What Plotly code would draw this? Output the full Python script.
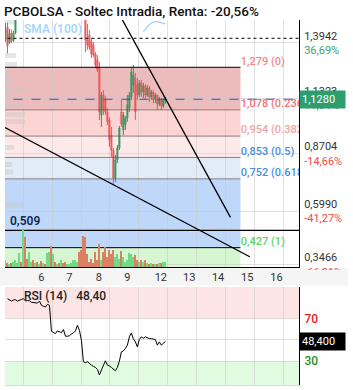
import plotly.graph_objects as go

# ---------------- data ----------------
title_text = "PCBOLSA - Soltec Intradia, Renta: -20,56%"

opens = [1.410, 1.470, 1.395, 1.440, 1.405, 1.442, 1.512, 1.550, 1.590, 1.580,
         1.680, 1.640, 1.620, 1.670, 1.680, 1.670, 1.680, 1.675, 1.690, 1.685,
         1.695, 1.690, 1.730, 1.760, 1.640, 1.665, 1.650, 1.660, 1.650, 1.665,
         1.640, 1.635, 1.645, 1.650, 1.660, 1.675, 1.690, 1.710, 1.670, 1.600,
         1.530, 1.408, 1.432, 1.399, 1.384, 1.342, 1.313, 1.276, 1.054, 1.148,
         1.125, 1.068, 1.030, 0.959, 0.888, 0.756, 0.841, 0.898, 1.068, 0.983,
         1.007, 1.040, 1.087, 1.139, 1.195, 1.228, 1.195, 1.148, 1.205, 1.162,
         1.191, 1.148, 1.181, 1.139, 1.162, 1.125, 1.148, 1.106, 1.129, 1.096,
         1.120]
highs = [1.488, 1.490, 1.460, 1.458, 1.452, 1.530, 1.560, 1.600, 1.610, 1.700,
         1.720, 1.660, 1.680, 1.690, 1.700, 1.690, 1.690, 1.700, 1.700, 1.700,
         1.700, 1.740, 1.770, 1.760, 1.680, 1.670, 1.670, 1.665, 1.670, 1.670,
         1.645, 1.650, 1.655, 1.665, 1.680, 1.700, 1.720, 1.710, 1.680, 1.610,
         1.540, 1.484, 1.455, 1.417, 1.399, 1.351, 1.337, 1.304, 1.162, 1.172,
         1.143, 1.087, 1.044, 0.997, 0.898, 0.865, 0.912, 1.002, 1.125, 1.068,
         1.049, 1.148, 1.162, 1.280, 1.290, 1.252, 1.228, 1.219, 1.219, 1.205,
         1.200, 1.195, 1.191, 1.172, 1.172, 1.158, 1.148, 1.139, 1.134, 1.134,
         1.139]
lows = [1.400, 1.345, 1.390, 1.395, 1.398, 1.435, 1.512, 1.540, 1.570, 1.580,
        1.620, 1.610, 1.620, 1.660, 1.660, 1.660, 1.670, 1.670, 1.680, 1.680,
        1.685, 1.690, 1.720, 1.620, 1.630, 1.640, 1.645, 1.645, 1.640, 1.630,
        1.625, 1.630, 1.640, 1.645, 1.655, 1.670, 1.685, 1.660, 1.580, 1.520,
        1.351, 1.361, 1.361, 1.323, 1.328, 1.276, 1.257, 1.030, 0.997, 1.054,
        1.054, 1.006, 0.903, 0.855, 0.723, 0.737, 0.827, 0.888, 0.997, 0.959,
        0.983, 1.021, 1.068, 1.125, 1.158, 1.030, 1.125, 1.139, 1.139, 1.134,
        1.125, 1.139, 1.115, 1.125, 1.110, 1.110, 1.077, 1.096, 1.077, 1.087,
        1.106]
closes = [1.455, 1.380, 1.440, 1.405, 1.442, 1.512, 1.550, 1.590, 1.580, 1.680,
          1.640, 1.620, 1.670, 1.680, 1.670, 1.680, 1.675, 1.690, 1.685, 1.695,
          1.690, 1.730, 1.760, 1.640, 1.665, 1.650, 1.660, 1.650, 1.665, 1.640,
          1.635, 1.645, 1.650, 1.660, 1.675, 1.690, 1.710, 1.670, 1.600, 1.530,
          1.408, 1.384, 1.375, 1.342, 1.337, 1.290, 1.266, 1.068, 1.148, 1.077,
          1.068, 1.021, 0.936, 0.888, 0.756, 0.841, 0.898, 0.992, 1.011, 1.054,
          1.040, 1.101, 1.148, 1.257, 1.243, 1.068, 1.148, 1.205, 1.162, 1.191,
          1.148, 1.181, 1.139, 1.162, 1.125, 1.148, 1.106, 1.129, 1.096, 1.125,
          1.128]
volumes = [70, 40, 30, 40, 50, 70, 40, 140, 50, 370,
           300, 80, 150, 50, 70, 40, 50, 30, 60, 40,
           30, 140, 150, 210, 130, 50, 30, 40, 70, 40,
           50, 30, 30, 40, 70, 70, 50, 150, 170, 310,
           300, 130, 50, 80, 40, 150, 70, 230, 70, 150,
           200, 100, 170, 130, 170, 100, 130, 80, 160, 100,
           50, 70, 140, 130, 100, 120, 70, 50, 70, 50,
           70, 40, 30, 40, 30, 30, 30, 40, 40, 50,
           50]
rsi14 = [None, 88.7, 87.5, 86.5, 87.5, 87.8, 86.5, 87.5, 88.0, 88.7,
         86.5, 87.0, 86.8, 85.3, 85.0, 84.8, 84.6, 86.5, 82.5, 81.5,
         80.9, 83.4, 82.5, 58.0, 56.5, 55.9, 58.4, 57.5, 56.8, 59.7,
         53.4, 53.4, 53.8, 55.5, 56.5, 58.4, 63.7, 59.0, 49.7, 29.4,
         28.5, 29.4, 27.5, 26.2, 25.0, 24.0, 22.2, 16.9, 21.5, 25.3,
         30.3, 26.2, 25.5, 24.0, 22.0, 20.9, 24.0, 30.0, 38.7, 39.6,
         41.9, 45.0, 52.8, 56.5, 51.0, 48.1, 43.4, 50.5, 52.8, 51.5,
         52.8, 51.8, 51.2, 51.2, 50.8, 50.3, 45.0, 48.1, 45.0, 47.2,
         48.4]
sma100 = [None] * 69 + [1.448, 1.460, 1.472, 1.481, 1.488, 1.493, 1.495,
                        1.495, 1.493, 1.491, 1.487, 1.484]

candle_idx = list(range(len(closes)))

day_labels = ["6", "7", "8", "9", "12", "13", "14", "15", "16"]
day_pos = [18, 32, 46.75, 61, 77.75, 92, 106.4, 121, 135.6]
grid_first, grid_step, grid_count = 8.9, 14.445, 10

fib_levels = [1.279, 1.078, 0.954, 0.853, 0.752, 0.427]
fib_ratios = ["0", "0.236", "0.382", "0.5", "0.618", "1"]
fib_zone_colors = ["#ecbcbc", "#fcd4d4", "#fde9e9", "#e2ecf8", "#bfd8fa"]
fib_text_colors = ["#f08a8a", "#f07474", "#f3a3a3", "#4a8fe0", "#4a8fe0", "#5fd35f"]
fib_floor = 0.3343
fib_end = 117.6
support_level = 0.509
last_price = 1.128
ref_level = 1.416

# faint (blurred) legend tags along the left edge: price centre, length in candles
left_tag_price = [1.493, 1.335, 1.292, 1.254, 1.214, 1.174, 1.148, 1.099,
                  1.056, 1.023, 0.900, 0.820, 0.784, 0.629]
left_tag_len = [5.3, 5.3, 5.8, 2.3, 3.8, 9.3, 3.3, 9.3, 9.8, 9.8, 4.3, 3.3, 3.8, 8.8]

price_ticks = [1.3942, 1.1323, 0.8704, 0.5990, 0.3466]
price_tick_txt = ["1,3942", "1,1323", "0,8704", "0,5990", "0,3466"]
pct_txt = ["36,69%", "11,01%", "-14,66%", "-41,27%", "-66,01%"]

trend_a_x = [52, 112.6]
trend_a_y = [1.615, 0.570]
trend_b_x = [-0.25, 122.25]
trend_b_y = [0.994, 0.384]

x_range = [-0.25, 146.9]
y_range = [0.3343, 1.5024]
rsi_range = [7.5, 100]

# ---------------- figure ----------------
FONT = "Roboto"
GREEN = "#35955f"
RED = "#f25353"
GRID = "rgba(200,200,200,0.55)"
X_FAR_L, X_FAR_R = -5, 200
MAIN_DOM = [0.3225, 1]
RSI_DOM = [0, 0.2693]

fig = go.Figure()

fig.add_trace(go.Candlestick(
    x=candle_idx, open=opens, high=highs, low=lows, close=closes,
    increasing=dict(line=dict(color=GREEN, width=1), fillcolor=GREEN),
    decreasing=dict(line=dict(color=RED, width=1), fillcolor=RED),
    whiskerwidth=0, showlegend=False, xaxis="x", yaxis="y"))

vol_colors = ["#6fdb86" if c >= o else "#dc8064" for o, c in zip(opens, closes)]
fig.add_trace(go.Bar(x=candle_idx, y=volumes, marker_color=vol_colors,
                     marker_line_width=0, width=0.6, showlegend=False,
                     xaxis="x", yaxis="y3"))

fig.add_trace(go.Scatter(x=candle_idx, y=sma100, mode="lines",
                         line=dict(color="#9fd0f5", width=1.2),
                         showlegend=False, xaxis="x", yaxis="y"))


def hline(y, x0, x1, color, width=1, dash="solid"):
    fig.add_trace(go.Scatter(x=[x0, x1], y=[y, y], mode="lines",
                             line=dict(color=color, width=width, dash=dash),
                             showlegend=False, hoverinfo="skip",
                             xaxis="x", yaxis="y"))


for k, lv in enumerate(fib_levels):
    col = "black" if k in (0, len(fib_levels) - 1) else "rgba(90,70,70,0.65)"
    hline(lv, X_FAR_L, fib_end, col)
hline(support_level, X_FAR_L, X_FAR_R, "black", 1.2)
hline(ref_level, X_FAR_L, X_FAR_R, "black", 1, "dot")
hline(last_price, X_FAR_L, X_FAR_R, "#4a3fd0", 1, "dash")

fig.add_trace(go.Scatter(x=trend_a_x, y=trend_a_y, mode="lines",
                         line=dict(color="black", width=1.3),
                         showlegend=False, xaxis="x", yaxis="y"))
fig.add_trace(go.Scatter(x=trend_b_x, y=trend_b_y, mode="lines",
                         line=dict(color="black", width=1.3),
                         showlegend=False, xaxis="x", yaxis="y"))

fib_text = [f"{lv:.3f}".replace('.', ',') + f" ({r})" for lv, r in zip(fib_levels, fib_ratios)]
fig.add_trace(go.Scatter(
    x=[fib_end + 0.2] * len(fib_levels), y=fib_levels, mode="text",
    text=fib_text, textposition="top right",
    textfont=dict(family=FONT, size=11, color=fib_text_colors, weight=500),
    cliponaxis=True, showlegend=False, xaxis="x", yaxis="y"))

fig.add_trace(go.Scatter(x=candle_idx, y=rsi14, mode="lines",
                         line=dict(color="black", width=1),
                         showlegend=False, xaxis="x2", yaxis="y2"))

shapes = []
bounds = fib_levels + [fib_floor]
for k, col in enumerate(fib_zone_colors):
    shapes.append(dict(type="rect", xref="x", yref="y", x0=X_FAR_L, x1=fib_end,
                       y0=bounds[k + 1], y1=bounds[k], fillcolor=col,
                       line_width=0, layer="below"))
shapes.append(dict(type="rect", xref="x", yref="y", x0=X_FAR_L, x1=fib_end,
                   y0=fib_floor, y1=fib_levels[-1], fillcolor="#d6f6d2",
                   line_width=0, layer="below"))
for p, ln in zip(left_tag_price, left_tag_len):
    shapes.append(dict(type="rect", xref="x", yref="y", x0=X_FAR_L, x1=ln,
                       y0=p - 0.0118, y1=p + 0.0118,
                       fillcolor="rgba(200,200,200,0.45)", line_width=0, layer="below"))
shapes.append(dict(type="rect", xref="x2", yref="y2", x0=X_FAR_L, x1=X_FAR_R,
                   y0=70, y1=100, fillcolor="#fde5e5", line_width=0, layer="below"))
shapes.append(dict(type="rect", xref="x2", yref="y2", x0=X_FAR_L, x1=X_FAR_R,
                   y0=rsi_range[0], y1=30, fillcolor="#e0fbe0", line_width=0, layer="below"))
# light strip behind the date labels
strip_y0, strip_y1 = 0.2726, MAIN_DOM[0] - 0.0015
shapes.append(dict(type="rect", xref="paper", yref="paper", x0=-0.02, x1=1.1655,
                   y0=strip_y0, y1=strip_y1, fillcolor="#f5f5f5", line_width=0,
                   layer="below"))
shapes.append(dict(type="rect", xref="paper", yref="paper", x0=1.0035, x1=1.1655,
                   y0=strip_y0, y1=0.3151, fillcolor="#f5f5f5", line_width=0,
                   layer="above"))

annotations = [
    dict(xref="x", yref="y", x=8.25, y=1.460, text="SMA (100)", showarrow=False,
         xanchor="left", yanchor="middle",
         font=dict(family=FONT, size=12, color="#a8d5f8", weight=600)),
    dict(xref="x", yref="y", x=1.0, y=support_level, text="0,509", showarrow=False,
         xanchor="left", yanchor="bottom",
         font=dict(family=FONT, size=12, color="#14254a", weight=600)),
    dict(xref="paper", yref="y", x=1.0, y=last_price, text="1,1280", showarrow=False,
         xanchor="left", yanchor="middle", bgcolor="#2e9e6e", borderpad=2,
         width=41, align="left",
         font=dict(family=FONT, size=11, color="white")),
    dict(xref="paper", yref="y2", x=1.0, y=rsi14[-1], text="48,400", showarrow=False,
         xanchor="left", yanchor="middle", bgcolor="black", borderpad=2,
         width=41, align="left",
         font=dict(family=FONT, size=11, color="white")),
    dict(xref="x2", yref="y2", x=8.1, y=91.2,
         text="RSI (14)&nbsp;&nbsp;&nbsp;48,40", showarrow=False,
         xanchor="left", yanchor="middle",
         font=dict(family=FONT, size=12, color="#222", weight=500)),
]

grid_pos = [grid_first + grid_step * k for k in range(grid_count)]

ticktext_price = [
    f"{p}<br><span style='color:{'#3aa36f' if not s.startswith('-') else '#f04848'}'>{s}</span>"
    for p, s in zip(price_tick_txt, pct_txt)]

fig.update_layout(
    width=353, height=390,
    margin=dict(l=5, r=53.7, t=20, b=5, autoexpand=False),
    paper_bgcolor="white", plot_bgcolor="white",
    showlegend=False,
    bargap=0,
    font=dict(family=FONT, size=11, color="#333"),
    title=dict(text=title_text, x=4 / 353, xref="container", xanchor="left",
               y=1 - 11 / 390, yref="container", yanchor="middle",
               automargin=False,
               font=dict(family=FONT, size=13.5, color="#111", weight=500)),
    xaxis=dict(domain=[0, 1], range=x_range, anchor="y", automargin=False,
               tickmode="array", tickvals=day_pos, ticktext=day_labels,
               showgrid=False, ticks="", zeroline=False,
               minor=dict(tickmode="array", tickvals=grid_pos, showgrid=True,
                          gridcolor=GRID, gridwidth=1, ticks=""),
               showline=True, linecolor="black", linewidth=1,
               rangeslider=dict(visible=False),
               tickfont=dict(family=FONT, size=11, color="#333")),
    yaxis=dict(domain=MAIN_DOM, range=y_range, side="right", anchor="x",
               automargin=False,
               tickmode="array", tickvals=price_ticks, ticktext=ticktext_price,
               showgrid=True, gridcolor=GRID, zeroline=False, ticks="",
               showline=True, linecolor="black", linewidth=1,
               ticklabelstandoff=2,
               tickfont=dict(family=FONT, size=11, color="#333")),
    yaxis3=dict(overlaying="y", range=[0, 2473], visible=False, automargin=False),
    xaxis2=dict(domain=[0, 1], range=x_range, anchor="y2", automargin=False,
                showticklabels=False, showgrid=False, ticks="", zeroline=False,
                minor=dict(tickmode="array", tickvals=grid_pos, showgrid=True,
                           gridcolor=GRID, gridwidth=1, ticks=""),
                showline=True, linecolor="#dddddd", linewidth=1),
    yaxis2=dict(domain=RSI_DOM, range=rsi_range, side="right", anchor="x2",
                automargin=False,
                tickmode="array", tickvals=[30, 50, 70],
                ticktext=["<span style='color:#1e8f1e'>30</span>", "",
                          "<span style='color:#e8201a'>70</span>"],
                showgrid=True, gridcolor=GRID, zeroline=False, ticks="",
                showline=True, linecolor="black", linewidth=1,
                ticklabelstandoff=2,
                tickfont=dict(family=FONT, size=12, color="#333", weight=500)),
    shapes=shapes,
    annotations=annotations,
)

fig.write_html("out.html")
